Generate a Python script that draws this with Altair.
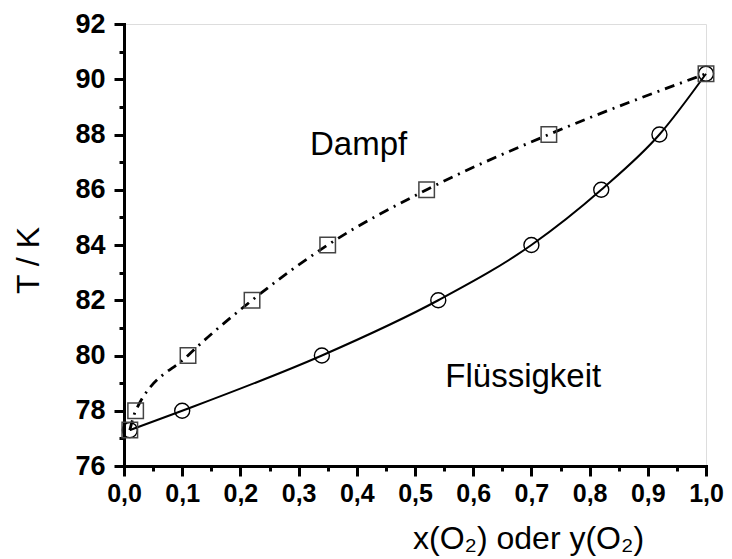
import altair as alt
import pandas as pd

# Liquid (Flüssigkeit) – circles, solid line
liq_x = [0.01, 0.10, 0.34, 0.54, 0.70, 0.82, 0.92, 1.00]
liq_T = [77.3, 78.0, 80.0, 82.0, 84.0, 86.0, 88.0, 90.2]
# Vapour (Dampf) – squares, dash-dot line
vap_x = [0.01, 0.02, 0.11, 0.22, 0.35, 0.52, 0.73, 1.00]
vap_T = [77.3, 78.0, 80.0, 82.0, 84.0, 86.0, 88.0, 90.2]

x_major = [0.0, 0.1, 0.2, 0.3, 0.4, 0.5, 0.6, 0.7, 0.8, 0.9, 1.0]
x_minor = [0.05, 0.15, 0.25, 0.35, 0.45, 0.55, 0.65, 0.75, 0.85, 0.95]
y_major = [76, 78, 80, 82, 84, 86, 88, 90, 92]
y_minor = [77, 79, 81, 83, 85, 87, 89, 91]

ann_text = ["Dampf", "Flüssigkeit"]
ann_x = [0.403, 0.686]
ann_T = [87.25, 78.87]

liq = pd.DataFrame({"x": liq_x, "T": liq_T})
vap = pd.DataFrame({"x": vap_x, "T": vap_T})
ann = pd.DataFrame({"t": ann_text, "x": ann_x, "T": ann_T})

FONT = "Liberation Sans"
xs = alt.Scale(domain=[0, 1], nice=False, zero=False)
ys = alt.Scale(domain=[76, 92], nice=False, zero=False)

x_axis = alt.Axis(
    orient="bottom", values=x_major,
    labelExpr="replace(format(datum.value, '.1f'), '.', ',')",
    domainWidth=3, domainColor="black", domainCap="square",
    tickWidth=3, tickSize=10, tickColor="black",
    labelFont=FONT, labelFontWeight="bold", labelFontSize=25, labelColor="black",
    labelPadding=5, labelFlush=False, labelOverlap=False, grid=False,
    title="x(O₂) oder y(O₂)", titleFont=FONT, titleFontSize=32,
    titleFontWeight="normal", titleColor="black",
    titleX=404, titleY=82, titleAlign="center", titleBaseline="alphabetic",
)
y_axis = alt.Axis(
    orient="left", values=y_major, format="d",
    domainWidth=3, domainColor="black", domainCap="square",
    tickWidth=3, tickSize=10, tickColor="black",
    labelFont=FONT, labelFontWeight="bold", labelFontSize=27, labelColor="black",
    labelPadding=9, labelFlush=False, labelOverlap=False, grid=False,
    title="T / K", titleFont=FONT, titleFontSize=32,
    titleFontWeight="normal", titleColor="black",
    titleX=-96, titleY=236, titleAngle=270, titleAlign="center", titleBaseline="middle",
)
x_minor_axis = alt.Axis(orient="bottom", values=x_minor, labels=False, domain=False,
                        tickWidth=3, tickSize=5, tickColor="black", grid=False, title=None)
y_minor_axis = alt.Axis(orient="left", values=y_minor, labels=False, domain=False,
                        tickWidth=3, tickSize=5, tickColor="black", grid=False, title=None)

liq_line = alt.Chart(liq).mark_line(color="black", strokeWidth=2, interpolate="monotone").encode(
    x=alt.X("x:Q", scale=xs, axis=x_axis),
    y=alt.Y("T:Q", scale=ys, axis=y_axis),
)
minor = alt.Chart(liq).mark_point(opacity=0).encode(
    x=alt.X("x:Q", scale=xs, axis=x_minor_axis),
    y=alt.Y("T:Q", scale=ys, axis=y_minor_axis),
)
vap_line = alt.Chart(vap).mark_line(color="black", strokeWidth=2.8, strokeDash=[10, 6, 2, 6],
                                    interpolate="monotone").encode(
    x=alt.X("x:Q", scale=xs, axis=None),
    y=alt.Y("T:Q", scale=ys, axis=None),
)
circles = alt.Chart(liq).mark_point(shape="circle", size=225, filled=False, color="black",
                                    strokeWidth=1.4, opacity=1).encode(
    x=alt.X("x:Q", scale=xs, axis=None),
    y=alt.Y("T:Q", scale=ys, axis=None),
)
squares = alt.Chart(vap).mark_point(shape="square", size=240, filled=False, color="#444444",
                                    strokeWidth=1.5, opacity=1).encode(
    x=alt.X("x:Q", scale=xs, axis=None),
    y=alt.Y("T:Q", scale=ys, axis=None),
)
labels = alt.Chart(ann).mark_text(font=FONT, fontSize=33, color="black", align="center",
                                  baseline="alphabetic").encode(
    x=alt.X("x:Q", scale=xs, axis=None),
    y=alt.Y("T:Q", scale=ys, axis=None),
    text="t:N",
)

chart = alt.layer(liq_line, minor, vap_line, circles, squares, labels).resolve_axis(
    x="independent", y="independent"
).properties(
    width=582, height=442,
    autosize=alt.AutoSizeParams(type="none"),
    padding={"left": 124, "top": 24, "right": 26, "bottom": 93},
).configure_view(stroke=None).configure(background="white")

chart.save("out.html", embed_options={"renderer": "svg", "actions": False})
